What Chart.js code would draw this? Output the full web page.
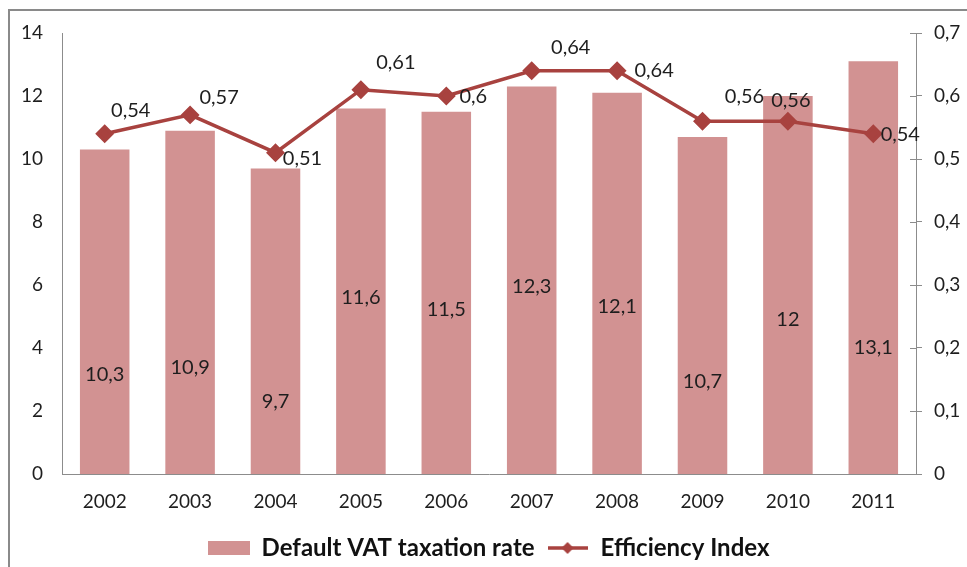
<!DOCTYPE html>
<html>
<head>
<meta charset="utf-8">
<script src="https://cdn.jsdelivr.net/npm/chart.js@4/dist/chart.umd.min.js"></script>
<style>
  html, body { margin: 0; padding: 0; background: #fff; }
  #wrap { width: 967px; height: 567px; }
</style>
</head>
<body>
<div id="wrap"><canvas id="myChart" width="967" height="567"></canvas></div>
<script>
// 데이터
const years = ["2002", "2003", "2004", "2005", "2006", "2007", "2008", "2009", "2010", "2011"];
const vatRate = [10.3, 10.9, 9.7, 11.6, 11.5, 12.3, 12.1, 10.7, 12, 13.1];
const efficiency = [0.54, 0.57, 0.51, 0.61, 0.6, 0.64, 0.64, 0.56, 0.56, 0.54];
const leftTicks = [0, 2, 4, 6, 8, 10, 12, 14];
const rightTicks = [0, 0.1, 0.2, 0.3, 0.4, 0.5, 0.6, 0.7];

// 라벨 위치 (막대 안 라벨 높이, 선 라벨 오프셋)
const barLabelAt = [3.16, 3.38, 2.3, 5.61, 5.23, 5.96, 5.33, 2.93, 4.91, 4.02];
const lineLabelOffset = [
  [26, -23], [29, -17], [27, 6], [35, -27], [27, 1],
  [39, -23], [37, 0], [42, -25], [3, -21], [27, 1],
];

const barColor = "#d29292";
const lineColor = "#a8423f";
const axisColor = "#8c8c8c";
const textColor = "#1e1e1e";
const fontFamily = "Lato, 'Open Sans', sans-serif";

const comma = (v) => String(v).replace(".", ",");

// 범례 아이콘
function barIcon() {
  const c = document.createElement("canvas");
  c.width = 42; c.height = 14;
  const x = c.getContext("2d");
  x.fillStyle = barColor;
  x.fillRect(0, 0, 42, 14);
  return c;
}
function lineIcon() {
  const c = document.createElement("canvas");
  c.width = 40; c.height = 14;
  const x = c.getContext("2d");
  x.strokeStyle = lineColor;
  x.lineWidth = 3.5;
  x.beginPath(); x.moveTo(0, 7); x.lineTo(40, 7); x.stroke();
  x.fillStyle = lineColor;
  x.beginPath(); x.moveTo(20, 1); x.lineTo(26, 7); x.lineTo(20, 13); x.lineTo(14, 7); x.closePath(); x.fill();
  return c;
}

// 테두리 + 오른쪽 눈금 + 값 라벨
const extras = {
  id: "extras",
  beforeDraw(chart) {
    const ctx = chart.ctx;
    ctx.save();
    ctx.strokeStyle = "#8a8a8a";
    ctx.lineWidth = 2;
    ctx.beginPath();
    ctx.moveTo(9, chart.height);
    ctx.lineTo(9, 10);
    ctx.lineTo(chart.width, 10);
    ctx.stroke();
    ctx.restore();
  },
  afterDraw(chart) {
    const ctx = chart.ctx;
    const y2 = chart.scales.y2;
    ctx.save();
    ctx.strokeStyle = axisColor;
    ctx.lineWidth = 1;
    y2.ticks.forEach((t) => {
      const py = Math.round(y2.getPixelForValue(t.value)) + 0.5;
      ctx.beginPath();
      ctx.moveTo(y2.left - 6, py);
      ctx.lineTo(y2.left, py);
      ctx.stroke();
    });
    ctx.restore();
  },
  afterDatasetsDraw(chart) {
    const ctx = chart.ctx;
    const yScale = chart.scales.y;
    ctx.save();
    ctx.fillStyle = textColor;
    ctx.font = "20px " + fontFamily;
    ctx.textAlign = "center";
    ctx.textBaseline = "middle";
    chart.getDatasetMeta(0).data.forEach((bar, i) => {
      ctx.fillText(comma(vatRate[i]), bar.x, yScale.getPixelForValue(barLabelAt[i]));
    });
    chart.getDatasetMeta(1).data.forEach((pt, i) => {
      const [dx, dy] = lineLabelOffset[i];
      ctx.fillText(comma(efficiency[i]), pt.x + dx, pt.y + dy);
    });
    ctx.restore();
  },
};

const dataSet = {
  labels: years,
  datasets: [
    {
      type: "bar",
      label: "Default VAT taxation rate",
      data: vatRate,
      backgroundColor: barColor,
      yAxisID: "y",
      categoryPercentage: 1,
      barPercentage: 0.58,
      order: 2,
    },
    {
      type: "line",
      label: "Efficiency Index",
      data: efficiency,
      borderColor: lineColor,
      backgroundColor: lineColor,
      borderWidth: 3.5,
      pointStyle: "rectRot",
      pointRadius: 7,
      pointBackgroundColor: lineColor,
      pointBorderColor: lineColor,
      fill: false,
      tension: 0,
      yAxisID: "y2",
      order: 1,
    },
  ],
};

const config = {
  type: "bar",
  data: dataSet,
  options: {
    responsive: false,
    animation: false,
    layout: { padding: { left: 10, right: 0, top: 33, bottom: -3 } },
    plugins: {
      tooltip: { enabled: false },
      legend: {
        position: "bottom",
        labels: {
          usePointStyle: true,
          pointStyleWidth: 42,
          padding: 12,
          color: "#111",
          font: { family: fontFamily, size: 24, weight: "bold" },
          generateLabels(chart) {
            return chart.data.datasets.map((ds, i) => ({
              text: ds.label,
              datasetIndex: i,
              pointStyle: i === 0 ? barIcon() : lineIcon(),
              fontColor: "#111",
              lineWidth: 0,
              hidden: false,
            }));
          },
        },
      },
    },
    scales: {
      x: {
        grid: { display: false, drawTicks: false },
        border: { color: axisColor, width: 1 },
        afterFit(s) { s.height = 50; },
        ticks: { color: textColor, padding: 16, font: { family: fontFamily, size: 19 } },
      },
      y: {
        position: "left",
        min: 0,
        max: 14,
        afterBuildTicks(s) { s.ticks = leftTicks.map((v) => ({ value: v })); },
        afterFit(s) { s.width = 52; },
        grid: { display: false, drawTicks: false },
        border: { color: axisColor, width: 1 },
        ticks: { color: textColor, padding: 19, font: { family: fontFamily, size: 19 } },
      },
      y2: {
        position: "right",
        min: 0,
        max: 0.7,
        afterBuildTicks(s) { s.ticks = rightTicks.map((v) => ({ value: v })); },
        afterFit(s) { s.width = 51; },
        grid: { drawOnChartArea: false, tickLength: 6, color: axisColor },
        border: { color: axisColor, width: 1 },
        ticks: {
          color: textColor,
          padding: 12,
          font: { family: fontFamily, size: 19 },
          callback: (v) => (v === 0 ? "0" : comma(Number(v).toFixed(1))),
        },
      },
    },
  },
  plugins: [extras],
};

const myChart = new Chart(document.querySelector("#myChart"), config);
</script>
</body>
</html>
